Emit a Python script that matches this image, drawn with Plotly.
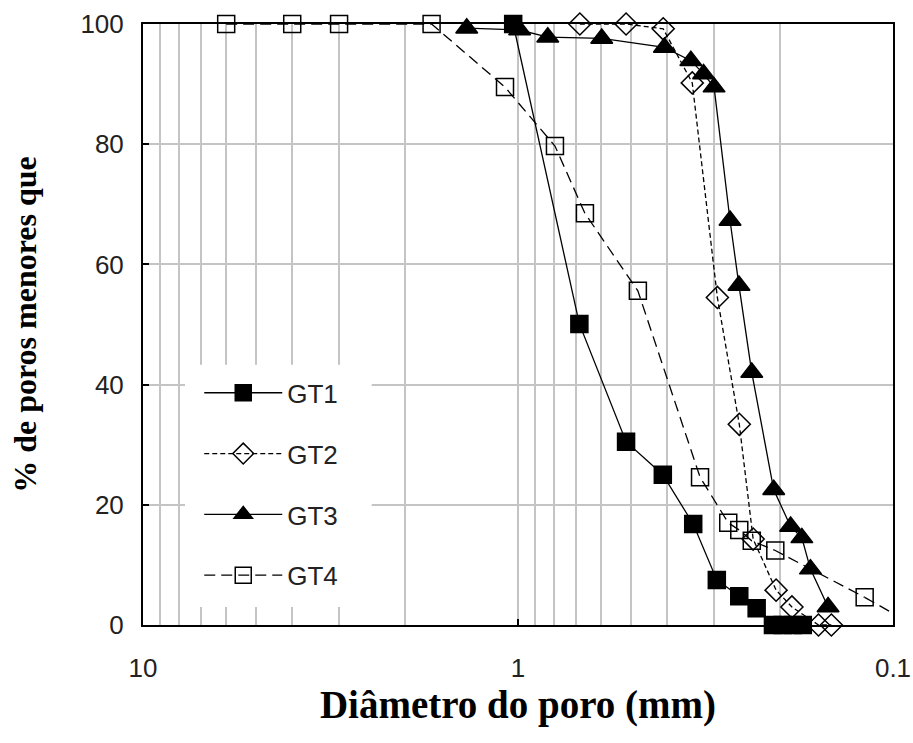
import plotly.graph_objects as go

# Pore-size distribution: cumulative % of pores finer than a given diameter
gt1_diam = [1.03, 0.686, 0.515, 0.411, 0.341, 0.295, 0.257, 0.231, 0.209, 0.197, 0.185, 0.174]
gt1_pct = [100, 50.1, 30.5, 25.0, 16.8, 7.5, 4.8, 2.8, 0, 0, 0, 0]

gt2_diam = [0.684, 0.515, 0.410, 0.343, 0.294, 0.257, 0.236, 0.205, 0.186, 0.158, 0.146]
gt2_pct = [100, 100, 99.2, 90.2, 54.5, 33.4, 14.3, 5.8, 3.0, 0, 0]

gt3_diam = [1.37, 0.99, 0.833, 0.598, 0.407, 0.346, 0.320, 0.300, 0.272, 0.2575, 0.238, 0.208,
            0.1875, 0.175, 0.166, 0.149]
gt3_pct = [99.3, 99.0, 97.8, 97.6, 96.1, 93.9, 91.7, 89.5, 67.3, 56.5, 42.0, 22.5,
           16.4, 14.5, 9.3, 3.0]

gt4_diam = [6.0, 4.0, 3.0, 1.70, 1.083, 0.797, 0.663, 0.479, 0.327, 0.275, 0.257, 0.238,
            0.206, 0.119]
gt4_pct = [100, 100, 100, 100, 89.5, 79.7, 68.5, 55.6, 24.6, 17.0, 15.8, 14.0,
           12.4, 4.6]
# GT4 continues past the 0.1 mm edge of the axis
gt4_tail_diam = [0.119, 0.088]
gt4_tail_pct = [4.6, 0]

x_tick_vals = [10, 1, 0.1]
x_tick_text = ["10", "1", "0.1"]
x_minor_vals = [9, 8, 7, 6, 5, 4, 3, 2, 0.9, 0.8, 0.7, 0.6, 0.5, 0.4, 0.3, 0.2]
y_tick_vals = [0, 20, 40, 60, 80, 100]

GRID = "#c4c4c4"
SANS = "Liberation Sans, Arial, sans-serif"
SERIF = "Liberation Serif, Times New Roman, serif"

fig = go.Figure()

series = [
    ("GT1", gt1_diam, gt1_pct, "square", "solid", 17),
    ("GT2", gt2_diam, gt2_pct, "diamond-open", "5px,3px", 17),
    ("GT3", gt3_diam, gt3_pct, "triangle-up", "solid", 19),
    ("GT4", gt4_diam, gt4_pct, "square-open", "11px,6px", 17),
]

for name, xs, ys, sym, dash, size in series:
    fig.add_trace(go.Scatter(
        x=xs, y=ys, name=name, legendgroup=name,
        mode="lines+markers",
        line=dict(color="black", width=1.3, dash=dash),
        marker=dict(symbol=sym, size=size, color="black",
                    line=dict(color="black", width=1.5)),
        cliponaxis=False,
    ))

fig.add_trace(go.Scatter(
    x=gt4_tail_diam, y=gt4_tail_pct, legendgroup="GT4", showlegend=False,
    mode="lines", line=dict(color="black", width=1.3, dash="11px,6px"),
    cliponaxis=True, hoverinfo="skip",
))

# blank panel behind the legend, hiding the grid there
fig.add_shape(type="rect", xref="x domain", yref="y domain",
              x0=0.056, x1=0.305, y0=0.03, y1=0.433,
              fillcolor="white", line=dict(width=0), layer="above")

fig.update_layout(
    width=913, height=743,
    margin=dict(l=143, r=20, t=24, b=118),
    paper_bgcolor="white", plot_bgcolor="white",
    showlegend=True,
    legend=dict(
        x=0.075, xanchor="left", y=0.234, yanchor="middle",
        bgcolor="rgba(0,0,0,0)", borderwidth=0,
        font=dict(family=SANS, size=26, color="#222"),
        traceorder="grouped", tracegroupgap=24,
        itemwidth=78,
    ),
)

fig.update_xaxes(
    type="log", range=[1, -1],
    tickvals=x_tick_vals, ticktext=x_tick_text,
    ticks="inside", ticklen=6, tickwidth=1.5, tickcolor="black",
    tickfont=dict(family=SANS, size=26, color="#222"),
    ticklabelstandoff=19,
    showline=True, linecolor="black", linewidth=2, mirror=True,
    showgrid=True, gridcolor=GRID, gridwidth=1.5,
    minor=dict(tickvals=x_minor_vals, showgrid=True, gridcolor=GRID, gridwidth=1.5, ticks=""),
    zeroline=False,
    title=dict(text="<b>Diâmetro do poro (mm)</b>",
               font=dict(family=SERIF, size=39, color="black"), standoff=0),
    automargin=False,
)

fig.update_yaxes(
    range=[0, 100], tickvals=y_tick_vals,
    ticks="inside", ticklen=6, tickwidth=1.5, tickcolor="black",
    tickfont=dict(family=SANS, size=26, color="#222"),
    ticklabelstandoff=12,
    showline=True, linecolor="black", linewidth=2, mirror=True,
    showgrid=True, gridcolor=GRID, gridwidth=1.5,
    zeroline=False,
    title=dict(text="<b>% de poros menores que</b>",
               font=dict(family=SERIF, size=32, color="black"), standoff=34),
    automargin=False,
)

fig.write_html("out.html")
